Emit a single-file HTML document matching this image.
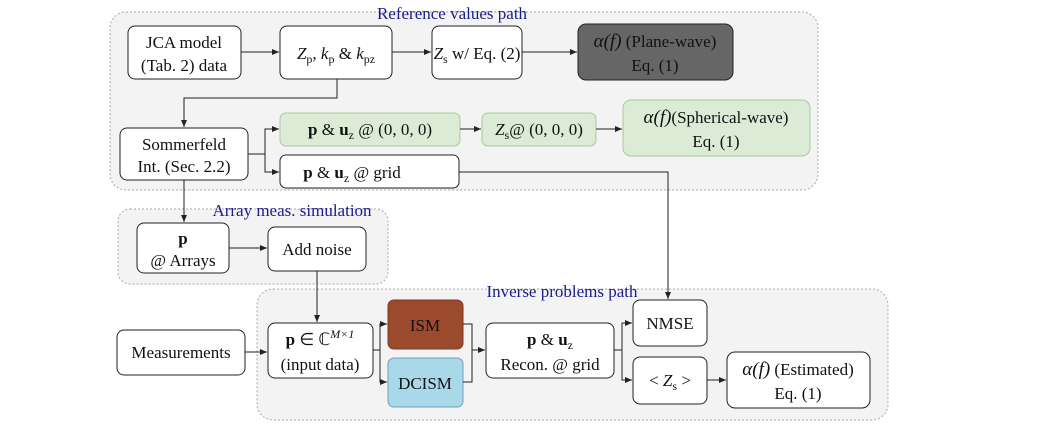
<!DOCTYPE html>
<html><head><meta charset="utf-8"><style>
body{margin:0;background:#fff}
svg text{font-family:"Liberation Serif",serif;font-size:17px;fill:#111}
.t{fill:#1c1c8a;font-size:17px}
</style></head><body>
<svg width="1040" height="441" viewBox="0 0 1040 441" xmlns="http://www.w3.org/2000/svg">
<defs><marker id="a" markerWidth="8" markerHeight="8" refX="7" refY="4" orient="auto" markerUnits="userSpaceOnUse"><path d="M0,1 L7,4 L0,7z" fill="#222"/></marker></defs>
<g fill="#f3f3f3" stroke="#aaa" stroke-dasharray="2,2">
<rect x="110" y="12" width="708" height="178" rx="16"/>
<rect x="118" y="209" width="270" height="75" rx="12"/>
<rect x="257" y="289" width="631" height="131" rx="16"/>
</g>
<g text-anchor="middle">
<text class="t" x="452" y="19">Reference values path</text>
<text class="t" x="292" y="216">Array meas. simulation</text>
<text class="t" x="562" y="297">Inverse problems path</text>
</g>
<g stroke="#222" stroke-width="1" fill="#fff">
<rect x="128" y="26" width="113" height="53" rx="7"/>
<rect x="280" y="26" width="112" height="53" rx="7"/>
<rect x="432" y="26" width="90" height="53" rx="7"/>
<rect x="578" y="24" width="155" height="56" rx="8" fill="#666"/>
<rect x="120" y="128" width="128" height="52" rx="7"/>
<rect x="280" y="113" width="180" height="33" rx="6" fill="#dcebd6" stroke="#a9c99e"/>
<rect x="482" y="113" width="114" height="33" rx="6" fill="#dcebd6" stroke="#a9c99e"/>
<rect x="623" y="100" width="187" height="56" rx="8" fill="#dcebd6" stroke="#a9c99e"/>
<rect x="280" y="155" width="179" height="33" rx="6"/>
<rect x="137" y="223" width="92" height="50" rx="7"/>
<rect x="268" y="227" width="98" height="44" rx="7"/>
<rect x="117" y="330" width="128" height="45" rx="7"/>
<rect x="268" y="323" width="105" height="55" rx="7"/>
<rect x="388" y="300" width="75" height="49" rx="6" fill="#9c4a2e" stroke="#7a3a22"/>
<rect x="388" y="358" width="75" height="49" rx="6" fill="#a8d8ea" stroke="#6f9fb0"/>
<rect x="486" y="323" width="128" height="55" rx="7"/>
<rect x="633" y="300" width="74" height="46" rx="7"/>
<rect x="633" y="357" width="74" height="47" rx="7"/>
<rect x="727" y="352" width="143" height="56" rx="8"/>
</g>
<path d="M463 324H472V382H463" stroke="#222" fill="none"/>
<g stroke="#222" fill="none" marker-end="url(#a)">
<path d="M241 52H279"/><path d="M392 52H431"/><path d="M522 52H577"/>
<path d="M337 79V98H184V127"/>
<path d="M248 154H265V129H279"/><path d="M265 154V172H279"/>
<path d="M460 129H481"/><path d="M596 129H622"/>
<path d="M459 172H668V299"/>
<path d="M184 180V222"/>
<path d="M229 248H267"/>
<path d="M317 271V322"/>
<path d="M245 352H267"/>
<path d="M373 350H380V324H387"/><path d="M380 350V382H387"/>
<path d="M472 350H485"/>
<path d="M614 350H622V323H632"/><path d="M622 350V380H632"/>
<path d="M707 380H726"/>
</g>
<g text-anchor="middle">
<text x="184" y="48">JCA model</text><text x="184" y="71">(Tab. 2) data</text>
<text x="336" y="59"><tspan font-style="italic">Z</tspan><tspan font-size="12" dy="4">p</tspan><tspan dy="-4">, </tspan><tspan font-style="italic">k</tspan><tspan font-size="12" dy="4">p</tspan><tspan dy="-4"> &amp; </tspan><tspan font-style="italic">k</tspan><tspan font-size="12" dy="4">pz</tspan></text>
<text x="477" y="59"><tspan font-style="italic">Z</tspan><tspan font-size="12" dy="4">s</tspan><tspan dy="-4"> w/ Eq. (2)</tspan></text>
<text x="655" y="47"><tspan font-style="italic" font-size="19">α(f)</tspan> (Plane-wave)</text><text x="655" y="71">Eq. (1)</text>
<text x="184" y="150">Sommerfeld</text><text x="184" y="172">Int. (Sec. 2.2)</text>
<text x="370" y="135"><tspan font-weight="bold">p</tspan> &amp; <tspan font-weight="bold">u</tspan><tspan font-size="12" dy="4">z</tspan><tspan dy="-4"> @ (0, 0, 0)</tspan></text>
<text x="539" y="135"><tspan font-style="italic">Z</tspan><tspan font-size="12" dy="4">s</tspan><tspan dy="-4">@ (0, 0, 0)</tspan></text>
<text x="716" y="123"><tspan font-style="italic" font-size="19">α(f)</tspan>(Spherical-wave)</text><text x="716" y="147">Eq. (1)</text>
<text x="352" y="178"><tspan font-weight="bold">p</tspan> &amp; <tspan font-weight="bold">u</tspan><tspan font-size="12" dy="4">z</tspan><tspan dy="-4"> @ grid</tspan></text>
<text x="183" y="244" font-weight="bold">p</text><text x="183" y="266">@ Arrays</text>
<text x="317" y="255">Add noise</text>
<text x="181" y="358">Measurements</text>
<text x="320" y="345"><tspan font-weight="bold">p</tspan> ∈ ℂ<tspan font-size="12" dy="-7" font-style="italic">M×1</tspan></text>
<text x="320" y="370">(input data)</text>
<text x="425" y="331">ISM</text><text x="425" y="389">DCISM</text>
<text x="550" y="345"><tspan font-weight="bold">p</tspan> &amp; <tspan font-weight="bold">u</tspan><tspan font-size="12" dy="4">z</tspan></text>
<text x="550" y="370">Recon. @ grid</text>
<text x="670" y="329">NMSE</text>
<text x="670" y="386">&lt; <tspan font-style="italic">Z</tspan><tspan font-size="12" dy="4">s</tspan><tspan dy="-4"> &gt;</tspan></text>
<text x="798" y="375"><tspan font-style="italic" font-size="19">α(f)</tspan> (Estimated)</text><text x="798" y="399">Eq. (1)</text>
</g>
</svg>
</body></html>
